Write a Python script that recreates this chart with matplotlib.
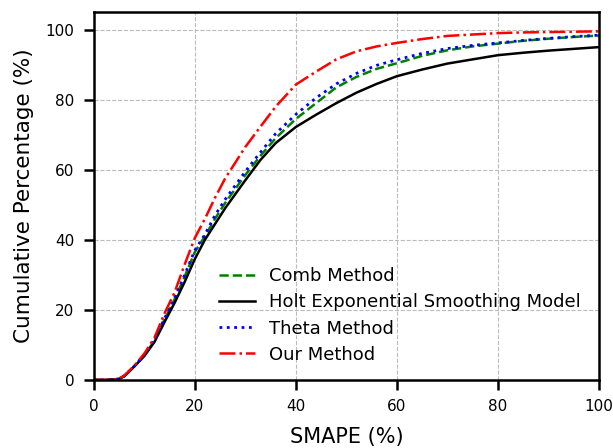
import matplotlib
matplotlib.use("Agg")
import matplotlib.pyplot as plt

# SMAPE grid (%)
smape = [0, 2, 4, 5, 6, 8, 10, 12, 14, 16, 18, 20, 22, 24, 26, 28, 30, 33, 36, 40,
         44, 48, 52, 56, 60, 65, 70, 75, 80, 85, 90, 95, 100]

# cumulative percentage per method
comb = [0, 0, 0.1, 0.3, 1.1, 3.9, 7.0, 11.2, 17.2, 23.0, 29.5, 36.5, 41.0, 46.0, 50.5,
        54.5, 58.5, 64.0, 69.0, 74.5, 79.0, 83.5, 86.5, 88.8, 90.4, 92.5, 94.1, 95.2,
        96.0, 96.8, 97.4, 97.9, 98.3]
holt = [0, 0, 0.1, 0.3, 1.0, 3.8, 6.8, 10.8, 16.5, 22.0, 28.0, 34.5, 40.0, 44.5, 49.0,
        53.0, 57.0, 62.8, 67.6, 72.2, 75.7, 79.0, 82.0, 84.5, 86.7, 88.6, 90.3, 91.5,
        92.7, 93.4, 94.0, 94.5, 95.0]
theta = [0, 0, 0.1, 0.3, 1.1, 3.9, 7.2, 11.5, 17.5, 23.5, 30.0, 37.0, 41.5, 47.0, 51.5,
         55.5, 59.5, 65.0, 70.3, 75.8, 80.5, 84.5, 87.5, 89.8, 91.4, 93.2, 94.6, 95.5,
         96.2, 96.9, 97.5, 98.0, 98.4]
ours = [0, 0, 0.1, 0.4, 1.2, 4.0, 7.5, 12.0, 19.0, 25.0, 33.0, 40.5, 46.0, 52.0, 57.5,
        62.0, 66.5, 72.3, 78.0, 84.3, 88.0, 91.5, 93.8, 95.2, 96.2, 97.3, 98.2, 98.6,
        99.0, 99.2, 99.3, 99.4, 99.5]

fig = plt.figure(figsize=(6.13, 4.48), dpi=100)
ax = fig.add_axes([0.153, 0.152, 0.824, 0.821])

ax.plot(smape, comb, color="green", linestyle="--", linewidth=1.8, label="Comb Method")
ax.plot(smape, holt, color="black", linestyle="-", linewidth=1.8,
        label="Holt Exponential Smoothing Model")
ax.plot(smape, theta, color="blue", linestyle=":", linewidth=2.0, label="Theta Method")
ax.plot(smape, ours, color="red", linestyle="-.", linewidth=1.8, label="Our Method")

ax.set_xlim(0, 100)
ax.set_ylim(0, 105)
ax.set_xticks([0, 20, 40, 60, 80, 100])
ax.set_yticks([0, 20, 40, 60, 80, 100])
ax.grid(True, linestyle="--", color="#bbbbbb", linewidth=0.8)
ax.set_axisbelow(True)

for s in ax.spines.values():
    s.set_linewidth(1.8)
ax.tick_params(axis="both", labelsize=11, width=1.8, length=7, pad=7)

ax.set_xlabel("SMAPE (%)", fontsize=15, labelpad=9)
ax.set_ylabel("Cumulative Percentage (%)", fontsize=15.5, labelpad=8)

ax.legend(loc="lower left", bbox_to_anchor=(0.215, 0.0), frameon=False, fontsize=13,
          handlelength=2.0, labelspacing=0.45)

fig.savefig("out.png", dpi=100)
